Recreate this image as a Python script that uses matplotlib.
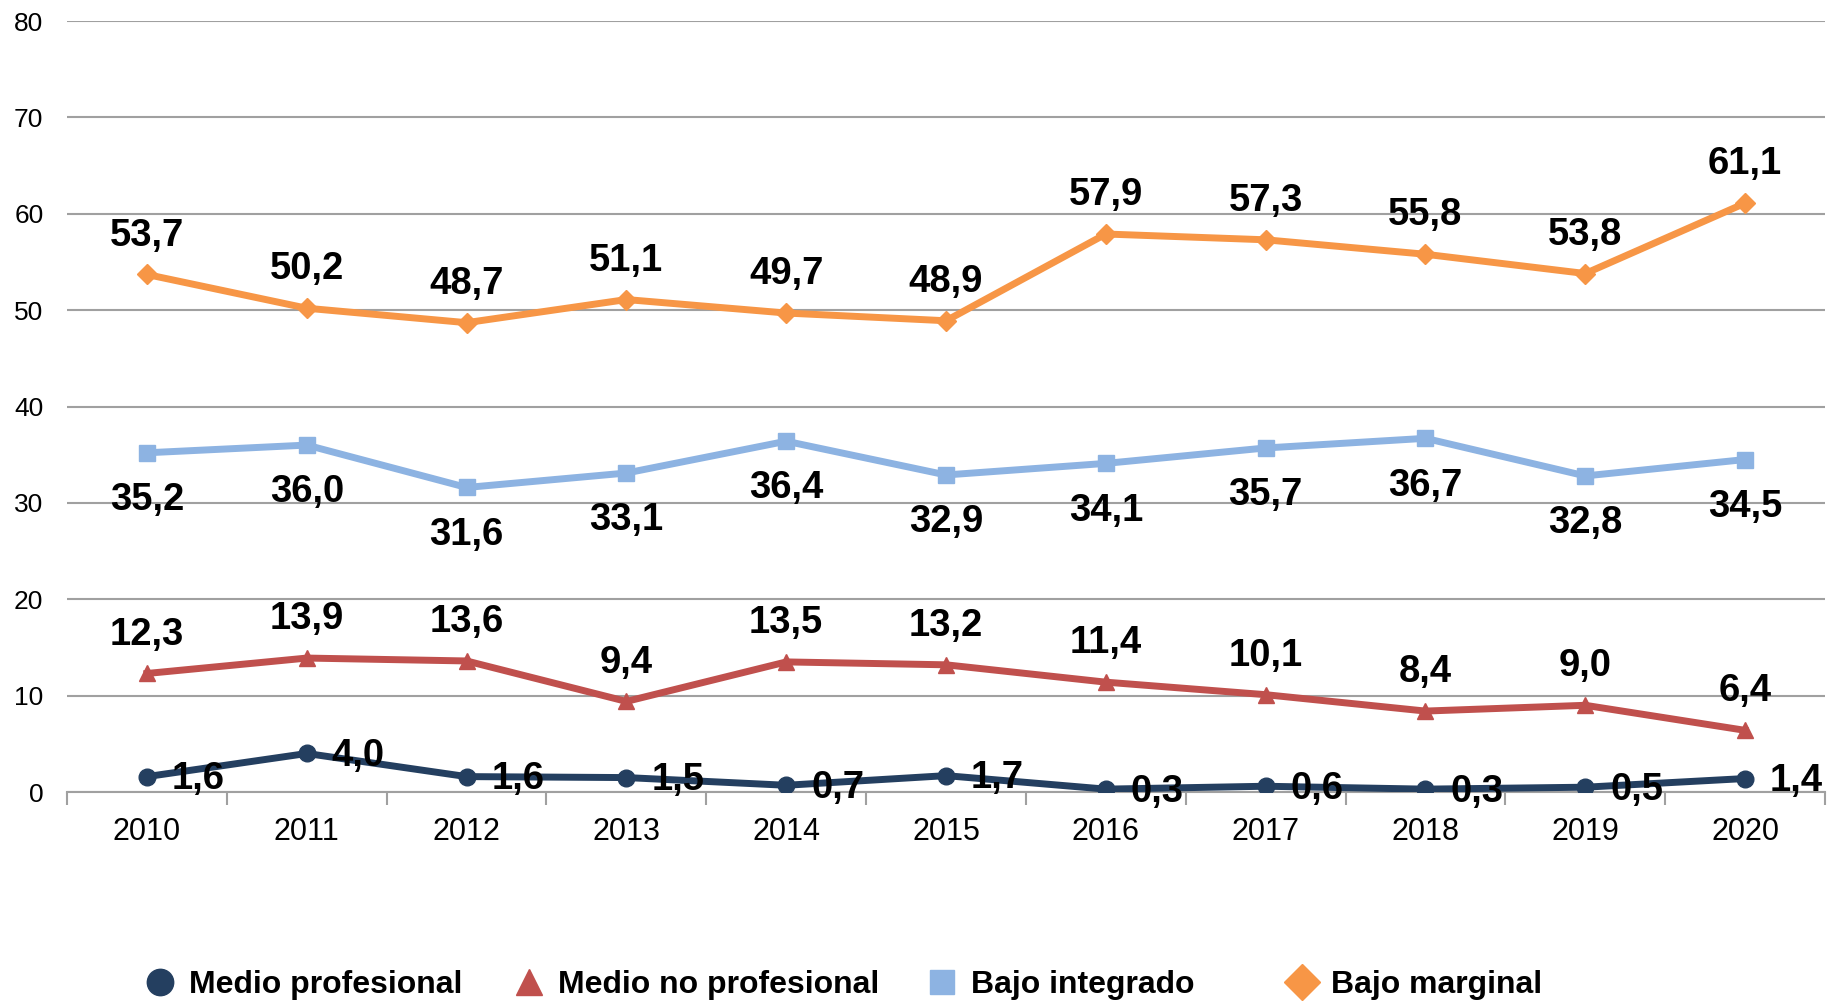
import matplotlib
matplotlib.use("Agg")
import matplotlib.pyplot as plt
from matplotlib.lines import Line2D

plt.rcParams['font.family'] = ['Liberation Sans', 'DejaVu Sans']

years = ['2010', '2011', '2012', '2013', '2014', '2015', '2016', '2017', '2018', '2019', '2020']
medio_profesional = [1.6, 4.0, 1.6, 1.5, 0.7, 1.7, 0.3, 0.6, 0.3, 0.5, 1.4]
medio_no_profesional = [12.3, 13.9, 13.6, 9.4, 13.5, 13.2, 11.4, 10.1, 8.4, 9.0, 6.4]
bajo_integrado = [35.2, 36.0, 31.6, 33.1, 36.4, 32.9, 34.1, 35.7, 36.7, 32.8, 34.5]
bajo_marginal = [53.7, 50.2, 48.7, 51.1, 49.7, 48.9, 57.9, 57.3, 55.8, 53.8, 61.1]

series = [
    # name, values, color, marker, markersize, label offset (pt), ha, legend marker size, legend x
    ('Medio profesional', medio_profesional, '#243F60', 'o', 12, (18, -2), 'left', 19, 0.079),
    ('Medio no profesional', medio_no_profesional, '#C0504D', '^', 12, (0, 28), 'center', 19, 0.281),
    ('Bajo integrado', bajo_integrado, '#8DB3E2', 's', 11, (0, -34), 'center', 17, 0.507),
    ('Bajo marginal', bajo_marginal, '#F79646', 'D', 10, (0, 28), 'center', 18, 0.704),
]

fig = plt.figure(figsize=(18.27, 10.06), dpi=100)
ax = fig.add_axes([0.0367, 0.2127, 0.9622, 0.7664])

x = list(range(len(years)))
for name, vals, color, marker, ms, off, ha, lms, lx in series:
    ax.plot(x, vals, color=color, lw=5, marker=marker, markersize=ms,
            markeredgecolor=color, zorder=3)
    for xi, v in zip(x, vals):
        ax.annotate(f'{v:.1f}'.replace('.', ','), (xi, v), xytext=off,
                    textcoords='offset points', ha=ha, va='center',
                    fontsize=27.5, fontweight='bold', color='black', zorder=4)
    h = Line2D([], [], ls='none', marker=marker, color=color, markersize=lms, label=name)
    fig.legend(handles=[h], loc='center left', bbox_to_anchor=(lx, 0.021),
               frameon=False, prop={'size': 23, 'weight': 'bold'},
               handletextpad=0.4, handlelength=1.0, borderpad=0, borderaxespad=0)

ax.set_xlim(-0.5, len(years) - 0.5)
ax.set_ylim(0, 80)
ax.set_yticks(range(0, 81, 10))
ax.set_xticks(x)
ax.set_xticklabels(years)
ax.set_xticks([i - 0.5 for i in range(len(years) + 1)], minor=True)
ax.tick_params(axis='x', which='major', length=0, pad=18, labelsize=22)
ax.tick_params(axis='x', which='minor', length=9, width=1.5, color='#A0A0A0')
ax.tick_params(axis='y', length=0, pad=17, labelsize=19)

ax.grid(axis='y', color='#A0A0A0', lw=1.5)
ax.set_axisbelow(True)
for s in ['top', 'right', 'left']:
    ax.spines[s].set_visible(False)
ax.spines['bottom'].set_color('#A0A0A0')
ax.spines['bottom'].set_linewidth(1.5)

fig.savefig('out.png', dpi=100)
